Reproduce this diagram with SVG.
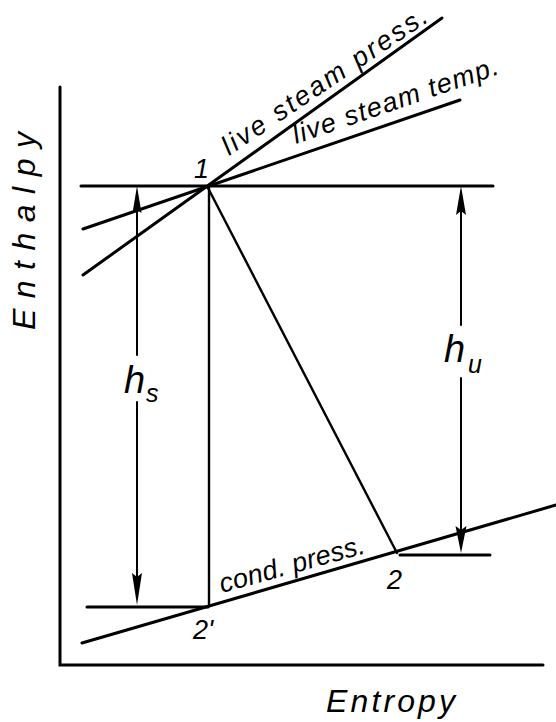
<svg xmlns="http://www.w3.org/2000/svg" width="556" height="722" viewBox="0 0 556 722">
<style>
  .ln { stroke: #000; fill: none; stroke-linecap: round; }
  .thick { stroke-width: 3; }
  .mid { stroke-width: 2.4; }
  .thin { stroke-width: 2; }
  text { font-family: "Liberation Sans", "DejaVu Sans", sans-serif; font-style: italic; fill: #000; }
  .lbl { font-size: 27px; }
  .pt { font-size: 27px; }
  .axis { font-size: 32px; }
  .big { font-size: 38px; }
  .sub { font-size: 25px; }
</style>
<rect width="556" height="722" fill="#fff"/>

<g id="axes">
  <path class="ln thick" d="M60,87 L60,665 L543,665"/>
</g>

<g id="connectors">
  <line class="ln thick" x1="81" y1="186" x2="493" y2="186"/>
  <line class="ln thick" x1="83" y1="275" x2="442" y2="18"/>
  <line class="ln thick" x1="83" y1="229" x2="460" y2="100"/>
  <line class="ln mid" x1="207" y1="186" x2="397" y2="553"/>
  <line class="ln mid" x1="209" y1="188" x2="209" y2="605"/>
  <line class="ln thick" x1="82" y1="643" x2="556" y2="505"/>
  <line class="ln thick" x1="87" y1="607" x2="208" y2="607"/>
  <line class="ln thick" x1="400" y1="555" x2="490" y2="555"/>
  <!-- h_s arrow -->
  <path d="M137,186 L132.5,213 L137,210 L141.5,213 Z" fill="#000"/>
  <line class="ln thin" x1="137" y1="200" x2="137" y2="355"/>
  <line class="ln thin" x1="137" y1="402" x2="137" y2="595"/>
  <path d="M137,605 L132,573 L137,577 L142,573 Z" fill="#000"/>
  <!-- h_u arrow -->
  <path d="M461,186 L456,215 L461,211 L466,215 Z" fill="#000"/>
  <line class="ln thin" x1="461" y1="200" x2="461" y2="325"/>
  <line class="ln thin" x1="461" y1="378" x2="461" y2="545"/>
  <path d="M461,553 L455.5,526 L461,530 L466.5,526 Z" fill="#000"/>
</g>

<g id="point1">
  <text class="pt" x="194" y="178">1</text>
</g>
<g id="point2">
  <text class="pt" x="387" y="589">2</text>
</g>
<g id="point2p">
  <text class="pt" x="193" y="639">2'</text>
</g>

<g id="label-press">
  <text class="lbl" transform="translate(229,156) rotate(-34)" textLength="242" lengthAdjust="spacing">live steam press.</text>
</g>
<g id="label-temp">
  <text class="lbl" transform="translate(296,144) rotate(-19)" textLength="216" lengthAdjust="spacing">live steam temp.</text>
</g>
<g id="label-cond">
  <text class="lbl" font-size="25" transform="translate(222,593) rotate(-15.5)" textLength="150" lengthAdjust="spacing">cond. press.</text>
</g>

<g id="label-hs">
  <text class="big" x="124" y="393">h</text>
  <text class="sub" x="146" y="402">s</text>
</g>
<g id="label-hu">
  <text class="big" x="444" y="362">h</text>
  <text class="sub" x="468" y="373">u</text>
</g>

<g id="label-enthalpy">
  <text class="axis" transform="translate(35,330) rotate(-90)" textLength="198" lengthAdjust="spacing">Enthalpy</text>
</g>
<g id="label-entropy">
  <text class="axis" font-size="35" x="326" y="712" textLength="129" lengthAdjust="spacing">Entropy</text>
</g>
</svg>
